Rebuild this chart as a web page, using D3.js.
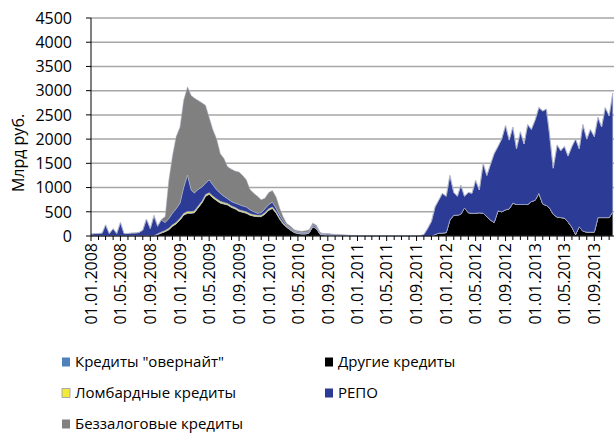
<!DOCTYPE html>
<html>
<head lang="ru">
    <meta charset="UTF-8">
    <title>Кредиты Банка России</title>
    <style>
        body { margin: 0; background: #fff; }
        text { font-family: "Open Sans", "Noto Sans", sans-serif; fill: #000; }
    </style>
</head>
<body>
<script src="https://cdn.jsdelivr.net/npm/d3@7"></script>
<div id="chart"></div>
<script>
// полумесячные точки: 1-е и 16-е число, с 01.01.2008 по 16.11.2013
var dates = [];
d3.utcMonth.range(new Date(Date.UTC(2008, 0, 1)), new Date(Date.UTC(2013, 11, 1))).forEach(function (m) {
    dates.push(m);
    dates.push(new Date(Date.UTC(m.getUTCFullYear(), m.getUTCMonth(), 16)));
});

// млрд руб.
var other = [
    0,0,0,0,0,0,0,0,0,0,0,0,0,0,0,0,0,0,30,60,90,130,200,250,
    330,430,470,470,480,580,680,820,860,790,730,680,660,640,590,560,510,490,470,430,410,400,400,450,
    530,570,470,340,250,180,120,70,50,40,40,60,190,150,30,20,15,10,10,10,5,5,5,0,
    0,0,0,0,0,0,0,0,0,0,0,0,0,0,0,0,0,0,0,0,0,30,60,60,
    70,330,430,430,450,580,480,470,470,480,470,400,330,280,520,500,540,560,680,650,650,650,650,710,
    740,880,660,630,580,450,390,380,370,290,180,30,190,100,80,80,80,380,380,380,380,500
];
var overnight = [
    5,5,5,5,5,5,5,5,5,5,5,5,5,5,5,5,5,5,5,5,5,5,5,5,
    5,5,5,5,5,5,5,5,5,5,5,5,5,5,5,5,5,5,5,5,5,5,5,5,
    5,5,5,5,5,5,5,5,5,5,5,5,5,5,5,5,5,5,5,5,5,5,5,0,
    0,0,0,0,0,0,0,0,0,0,0,0,0,0,0,0,0,0,0,0,0,0,0,0,
    0,0,0,0,0,0,0,0,0,0,0,0,0,0,0,0,0,0,0,0,0,0,0,0,
    0,0,0,0,0,0,0,0,0,0,0,0,0,0,0,0,0,0,0,0,0,0
];
var lombard = [
    0,0,0,0,0,0,0,0,0,0,0,0,0,0,0,0,0,0,10,15,20,25,25,25,
    30,30,30,30,30,30,30,30,30,30,30,30,25,25,25,25,25,25,25,25,25,25,25,25,
    25,25,25,20,20,15,10,10,5,5,5,5,5,5,5,5,0,0,0,0,0,0,0,0,
    0,0,0,0,0,0,0,0,0,0,0,0,0,0,0,0,0,0,0,0,0,0,0,0,
    0,0,0,0,0,0,0,0,0,0,0,0,0,0,0,0,0,0,0,0,0,0,0,0,
    0,0,0,0,0,0,0,0,0,0,0,0,0,0,0,0,0,0,0,0,0,0
];
var repo = [
    35,45,45,55,225,45,145,45,275,45,45,55,55,65,115,345,145,415,155,250,165,200,240,280,
    315,535,755,445,375,345,295,235,265,235,185,165,130,100,90,90,110,100,100,80,60,40,50,80,
    90,100,70,55,45,20,25,15,20,20,20,20,30,30,20,10,20,20,15,10,10,5,0,5,
    0,0,0,0,0,0,0,0,0,0,0,0,0,0,0,0,0,10,30,150,300,570,680,820,
    750,920,470,390,600,240,420,410,680,470,1030,850,1150,1420,1330,1500,1740,1420,1570,1150,1500,1250,1650,1490,
    1660,1770,1920,1990,1520,950,1490,1380,1480,1360,1670,1970,1610,2200,1920,2120,1970,2070,1870,2270,2100,2450
];
var unsecured = [
    0,0,5,0,0,0,0,5,0,0,5,0,5,5,5,0,10,10,10,10,120,790,1180,1490,
    1570,1800,1820,1950,1960,1840,1740,1610,1290,1140,1050,820,780,660,670,660,670,630,560,420,380,350,270,220,
    250,240,230,140,80,40,40,30,30,30,40,40,40,30,10,10,10,5,5,5,5,5,5,3,
    0,0,0,0,0,0,0,0,0,0,0,0,0,0,0,0,0,0,0,0,0,0,0,0,
    0,0,0,0,0,0,0,0,0,0,0,0,0,0,0,0,0,0,0,0,0,0,0,0,
    0,0,0,0,0,0,0,0,0,0,0,0,0,0,0,0,0,0,0,0,0,0
];

var yTicks = [0, 500, 1000, 1500, 2000, 2500, 3000, 3500, 4000, 4500];

var series = [
    {key: "other",     name: "Другие кредиты",        color: "#000000", values: other},
    {key: "overnight", name: "Кредиты \"овернайт\"",  color: "#4f81bd", values: overnight},
    {key: "lombard",   name: "Ломбардные кредиты",    color: "#f2ea3a", values: lombard},
    {key: "repo",      name: "РЕПО",                  color: "#2b3b96", values: repo},
    {key: "unsecured", name: "Беззалоговые кредиты",  color: "#808080", values: unsecured}
];
// порядок легенды: две колонки
var legendOrder = [["overnight", "lombard", "unsecured"], ["other", "repo"]];

var width = 614, height = 433;
var margin = {top: 18, right: 0, bottom: 197, left: 91};

var table = dates.slice(0, other.length).map(function (d, i) {
    var row = {date: d};
    series.forEach(function (s) { row[s.key] = s.values[i]; });
    return row;
});

var svg = d3.select("#chart").append("svg")
    .attr("width", width)
    .attr("height", height);

var x = d3.scaleUtc()
    .domain([new Date(Date.UTC(2008, 0, 1)), new Date(Date.UTC(2013, 10, 21))])
    .range([margin.left, width - margin.right]);
var y = d3.scaleLinear()
    .domain([0, 4500])
    .range([height - margin.bottom - 0.5 + 0.5 - 0, margin.top]);
y.range([236, 18]);

// сетка
svg.append("g")
    .selectAll("line")
    .data(yTicks.slice(1))
    .enter().append("line")
    .attr("x1", margin.left)
    .attr("x2", width)
    .attr("y1", function (d) { return y(d); })
    .attr("y2", function (d) { return y(d); })
    .attr("stroke", "#a6a6a6")
    .attr("stroke-width", 1.5);

var stack = d3.stack().keys(series.map(function (s) { return s.key; }));
var layers = stack(table);

var area = d3.area()
    .x(function (d) { return x(d.data.date); })
    .y0(function (d) { return y(d[0]); })
    .y1(function (d) { return y(d[1]); });

svg.append("g")
    .selectAll("path")
    .data(layers)
    .enter().append("path")
    .attr("d", area)
    .attr("fill", function (d, i) { return series[i].color; })
    .attr("stroke", "#b4b8cc")
    .attr("stroke-width", 0.5);

// ось Y
var yAxis = svg.append("g");
yAxis.append("line")
    .attr("x1", margin.left).attr("x2", margin.left)
    .attr("y1", y(4500)).attr("y2", y(0))
    .attr("stroke", "#000").attr("stroke-width", 1);
yAxis.selectAll(".tick")
    .data(yTicks)
    .enter().append("line")
    .attr("x1", margin.left - 5).attr("x2", margin.left)
    .attr("y1", function (d) { return y(d); })
    .attr("y2", function (d) { return y(d); })
    .attr("stroke", "#000");
yAxis.selectAll("text")
    .data(yTicks)
    .enter().append("text")
    .attr("x", 72)
    .attr("y", function (d) { return y(d); })
    .attr("dy", "0.36em")
    .attr("text-anchor", "end")
    .style("font-size", "16px")
    .text(function (d) { return d; });

svg.append("text")
    .attr("transform", "translate(24,153) rotate(-90)")
    .attr("text-anchor", "middle")
    .style("font-size", "16px")
    .text("Млрд руб.");

// ось X
var xAxis = svg.append("g");
xAxis.append("line")
    .attr("x1", margin.left).attr("x2", width)
    .attr("y1", y(0)).attr("y2", y(0))
    .attr("stroke", "#000");
var months = d3.utcMonth.range(new Date(Date.UTC(2008, 0, 1)), new Date(Date.UTC(2013, 11, 1)));
xAxis.selectAll(".minor")
    .data(months)
    .enter().append("line")
    .attr("x1", function (d) { return x(d); })
    .attr("x2", function (d) { return x(d); })
    .attr("y1", y(0))
    .attr("y2", function (d) { return y(0) + (d.getUTCMonth() % 4 === 0 ? 5 : 4); })
    .attr("stroke", "#000");
var fmt = d3.utcFormat("%d.%m.%Y");
xAxis.selectAll("text")
    .data(months.filter(function (d) { return d.getUTCMonth() % 4 === 0; }))
    .enter().append("text")
    .attr("transform", function (d) { return "translate(" + x(d) + ",243) rotate(-90)"; })
    .attr("dy", "0.36em")
    .attr("text-anchor", "end")
    .style("font-size", "16px")
    .text(function (d) { return fmt(d); });

// легенда
var colX = [62, 325], rowY = [362, 393, 424];
legendOrder.forEach(function (col, ci) {
    col.forEach(function (key, ri) {
        var s = series.filter(function (t) { return t.key === key; })[0];
        var g = svg.append("g").attr("transform", "translate(" + colX[ci] + "," + rowY[ri] + ")");
        g.append("rect")
            .attr("x", 0).attr("y", -4.5)
            .attr("width", 8).attr("height", 9)
            .attr("fill", s.color)
            .attr("stroke", key === "lombard" ? "#9a9ab0" : "none")
            .attr("stroke-width", 0.8);
        g.append("text")
            .attr("x", 13)
            .attr("dy", "0.36em")
            .style("font-size", "15px")
            .text(s.name);
    });
});
</script>
</body>
</html>
